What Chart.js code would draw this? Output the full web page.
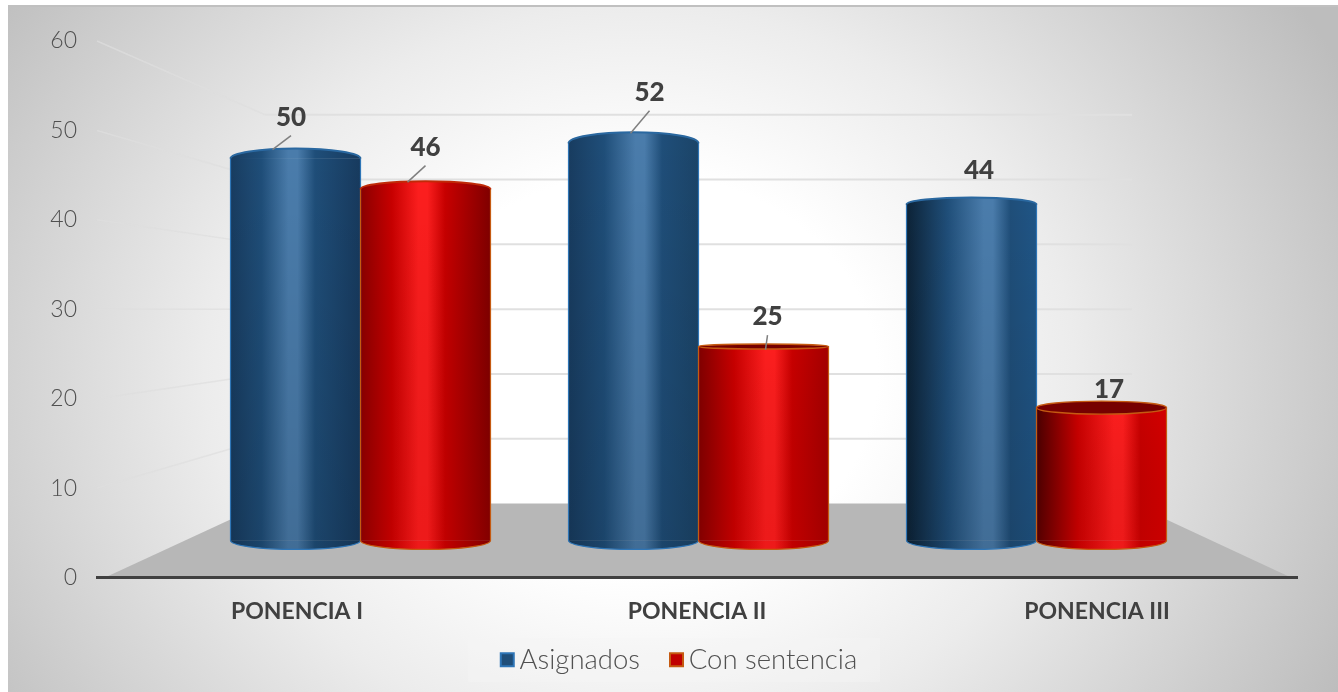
<!DOCTYPE html>
<html>
<head>
<meta charset="utf-8">
<style>html,body{margin:0;padding:0;background:#fff;overflow:hidden}#w{width:1338px;height:692px;position:relative}</style>
<script src="https://cdn.jsdelivr.net/npm/chart.js@4"></script>
</head>
<body>
<div id="w"><canvas id="c" width="1338" height="692"></canvas></div>
<script>
const categories = ['PONENCIA I', 'PONENCIA II', 'PONENCIA III'];
const groupSlots = [1, 2, 3];
const asignados = [50, 52, 44];
const conSentencia = [46, 25, 17];
const yTicks = [0, 10, 20, 30, 40, 50, 60];

// presentation only
const TEXT = '#404040';
const blueSkin = {fill:'#1f4e79', stroke:'#2e75b6', rim:'#2a68a0', hi:'#4a7cab', mid:'#1f4e79', top:'#143f66',
  left:['#183c60','#183c60','#0c2236'], right:['#173a5e','#1b4468','#1f5586']};
const redSkin = {fill:'#c00000', stroke:'#c55a11', rim:'#c02a08', hi:'#fc1e1e', mid:'#c80000', top:'#760000',
  left:['#8a0000','#800000','#4a0000'], right:['#800000','#a40000','#d40000']};
const skins = [blueSkin, redSkin];
const shades = ['rgba(0,0,0,0.12)', 'rgba(150,0,0,0.14)'];
const highlightAt = [0.48, 0.55, 0.63];
const labelOffsetX = [[-4.5, 16, 7.5], [0, 4, 7.5]];
const labelOffsetY = [[41.5, 51, 34], [42, 33, 21]];
const leaderOffsetX = [[-23, -3, null], [-18, 2, null]];

function cylGrad(ctx, s, i, x0, w) {
  const g = ctx.createLinearGradient(x0, 0, x0 + w, 0);
  const h = highlightAt[i];
  g.addColorStop(0, s.left[i]);
  g.addColorStop(h * 0.5, s.mid);
  g.addColorStop(h - 0.035, s.hi);
  g.addColorStop(h + 0.035, s.hi);
  g.addColorStop(Math.min(h + 0.17, 0.9), s.mid);
  g.addColorStop(1, s.right[i]);
  return g;
}
function arcRy(v) { return Math.abs(v - 30) * 0.5; }

const cylinderPlugin = {
  id: 'cylinder',
  afterLayout(chart) {
    const l = chart.legend;
    l.left += 30; l.right += 30;
    l.top -= 22; l.bottom -= 22;
  },
  beforeDraw(chart) {
    const {ctx, scales:{y}, chartArea:a} = chart;
    const W = chart.width, H = chart.height;
    ctx.save();
    ctx.fillStyle = '#fff'; ctx.fillRect(0, 0, W, H);
    ctx.translate(640, 375); ctx.scale(1, 0.85);
    const bg = ctx.createRadialGradient(0, 0, 0, 0, 0, 790);
    bg.addColorStop(0, '#ffffff'); bg.addColorStop(0.3, '#ffffff'); bg.addColorStop(0.55, '#ececec');
    bg.addColorStop(0.8, '#d2d2d2'); bg.addColorStop(1, '#bdbdbd');
    ctx.fillStyle = bg;
    ctx.fillRect(8 - 640, (6 - 375) / 0.85, W - 8, (H - 6) / 0.85);
    ctx.restore();
    ctx.fillStyle = '#c0c0c0'; ctx.fillRect(8, 5, W - 8, 2);

    // floor
    const backX0 = a.left + 168, backX1 = a.right - 165;
    const back = v => a.bottom - 74 + (y.getPixelForValue(v) - a.bottom) * 0.7245;
    ctx.fillStyle = '#b7b7b7';
    ctx.beginPath(); ctx.moveTo(a.left + 8, a.bottom); ctx.lineTo(backX0, back(0));
    ctx.lineTo(backX1, back(0)); ctx.lineTo(a.right - 6, a.bottom); ctx.closePath(); ctx.fill();
    // walls
    yTicks.forEach(v => {
      if (v === 0) return;
      const py = y.getPixelForValue(v), by = back(v);
      ctx.strokeStyle = 'rgba(222,222,222,0.7)'; ctx.lineWidth = 1.5;
      ctx.beginPath(); ctx.moveTo(a.left, py); ctx.lineTo(backX0, by); ctx.stroke();
      ctx.strokeStyle = '#e0e0e0'; ctx.lineWidth = 2;
      ctx.beginPath(); ctx.moveTo(backX0, by); ctx.lineTo(backX1, by); ctx.stroke();
    });
    // legend plate
    ctx.fillStyle = 'rgba(244,244,244,0.4)';
    ctx.fillRect(468, 638, 412, 44);
  },
  afterDraw(chart) {
    // legend swatches, aligned to the native legend entries
    const {ctx, legend} = chart;
    (legend.legendHitBoxes || []).forEach((h, i) => {
      const s = skins[i], cy = h.top + h.height / 2;
      ctx.save();
      ctx.fillStyle = s.fill; ctx.strokeStyle = s.stroke; ctx.lineWidth = 2;
      ctx.fillRect(h.left + 1, cy - 7, 13, 13); ctx.strokeRect(h.left + 1, cy - 7, 13, 13);
      ctx.restore();
    });
  },
  afterDatasetsDraw(chart) {
    const {ctx} = chart;
    const baseRy = 9, lift = 3;
    [0, 1].forEach(ds => {
      const meta = chart.getDatasetMeta(ds), s = skins[ds];
      const vals = ds === 0 ? asignados : conSentencia;
      meta.data.forEach((el, i) => {
        const w = el.width, x0 = el.x - w / 2, cx = el.x, rx = w / 2, v = vals[i];
        const ry = arcRy(v), fromBelow = v > 30;
        const topY = fromBelow ? el.y : el.y - lift;
        ctx.save();
        const g = cylGrad(ctx, s, i, x0, w);
        ctx.fillStyle = g;
        // bottom
        ctx.beginPath(); ctx.moveTo(x0, el.base); ctx.ellipse(cx, el.base, rx, baseRy, 0, Math.PI, 0, true); ctx.closePath(); ctx.fill();
        // top
        if (fromBelow) {
          ctx.beginPath(); ctx.moveTo(x0, el.y + 0.5); ctx.ellipse(cx, el.y, rx, ry, 0, Math.PI, 0, false); ctx.closePath(); ctx.fill();
        } else {
          ctx.fillRect(x0, topY, w, lift + 0.5);
        }
        // vertical shading
        const sh = ctx.createLinearGradient(0, topY - ry, 0, el.base + baseRy);
        sh.addColorStop(0, 'rgba(0,0,0,0)'); sh.addColorStop(1, shades[ds]);
        ctx.fillStyle = sh;
        ctx.beginPath(); ctx.moveTo(x0, topY);
        if (fromBelow) ctx.ellipse(cx, topY, rx, ry, 0, Math.PI, 0, false); else ctx.lineTo(x0 + w, topY);
        ctx.lineTo(x0 + w, el.base); ctx.ellipse(cx, el.base, rx, baseRy, 0, 0, Math.PI, false); ctx.closePath(); ctx.fill();
        // outline
        ctx.strokeStyle = s.stroke; ctx.lineWidth = 1.2;
        ctx.beginPath(); ctx.moveTo(x0, topY); ctx.lineTo(x0, el.base);
        ctx.ellipse(cx, el.base, rx, baseRy, 0, Math.PI, 0, true);
        ctx.lineTo(x0 + w, topY); ctx.stroke();
        if (fromBelow) {
          ctx.strokeStyle = s.rim; ctx.lineWidth = 2;
          ctx.beginPath(); ctx.ellipse(cx, topY, rx, ry, 0, Math.PI, 0, false); ctx.stroke();
        } else {
          ctx.fillStyle = s.top; ctx.strokeStyle = s.stroke; ctx.lineWidth = 1.4;
          ctx.beginPath(); ctx.ellipse(cx, topY, rx, ry, 0, 0, Math.PI * 2); ctx.fill(); ctx.stroke();
        }
        ctx.restore();
      });
    });
    // value labels and leaders
    [0, 1].forEach(ds => {
      const meta = chart.getDatasetMeta(ds);
      const vals = ds === 0 ? asignados : conSentencia;
      meta.data.forEach((el, i) => {
        const lx = el.x + labelOffsetX[ds][i], ly = el.y - labelOffsetY[ds][i];
        const lead = leaderOffsetX[ds][i];
        ctx.save();
        if (lead !== null) {
          ctx.strokeStyle = '#7f7f7f'; ctx.lineWidth = 1.5;
          ctx.beginPath(); ctx.moveTo(lx, ly + 18.5);
          const v = vals[i];
          ctx.lineTo(el.x + lead, el.y - (v > 30 ? arcRy(v) - 1 : 0)); ctx.stroke();
        }
        ctx.fillStyle = TEXT; ctx.font = '900 26px Lato'; ctx.textAlign = 'center'; ctx.textBaseline = 'middle';
        ctx.fillText(String(vals[i]), lx, ly);
        ctx.restore();
      });
    });
  }
};

function seriesData(values) { return values.map((v, i) => ({x: groupSlots[i], y: v})); }
function barFill(ds) {
  return c => {
    const sc = c.chart.scales.xBars;
    if (!sc || c.dataIndex === undefined) return skins[ds].fill;
    const w = 130, px = sc.getPixelForValue(groupSlots[c.dataIndex]);
    return cylGrad(c.chart.ctx, skins[ds], c.dataIndex, ds === 0 ? px - w : px, w);
  };
}

new Chart(document.getElementById('c'), {
  type: 'bar',
  data: {
    labels: categories,
    datasets: [
      {label: 'Asignados', data: seriesData(asignados), xAxisID: 'xBars', yAxisID: 'yBars', backgroundColor: barFill(0), barThickness: 130, borderWidth: 0},
      {label: 'Con sentencia', data: seriesData(conSentencia), xAxisID: 'xBars', yAxisID: 'yBars', backgroundColor: barFill(1), barThickness: 130, borderWidth: 0}
    ]
  },
  options: {
    responsive: false,
    animation: false,
    layout: {padding: {left: 0, right: 41, top: 41, bottom: -14}},
    scales: {
      x: {
        type: 'category', offset: true, position: 'bottom',
        grid: {display: false, drawTicks: false},
        border: {display: true, color: '#404040', width: 3},
        ticks: {color: TEXT, font: {family: 'Lato', size: 23, weight: 'bold'}, padding: 20, maxRotation: 0},
        afterFit(s) { s.height = 62; }
      },
      y: {
        type: 'linear', position: 'left', min: 0, max: 60,
        grid: {display: false, drawTicks: false},
        border: {display: false},
        ticks: {color: '#505050', font: {family: 'Lato', size: 23, weight: '300'}, padding: 20, stepSize: 10},
        afterFit(s) { s.width = 97; }
      },
      xBars: {type: 'linear', axis: 'x', display: false, offset: false, min: 0.2204, max: 3.7707},
      yBars: {type: 'linear', axis: 'y', display: false, min: -4.85, max: 65.4}
    },
    plugins: {
      tooltip: {enabled: false},
      legend: {
        position: 'bottom',
        labels: {
          color: '#505050',
          font: {family: 'Lato', size: 27.5, weight: '300'},
          boxWidth: 6, boxHeight: 15, padding: 29,
          generateLabels: () => [
            {text: 'Asignados', fillStyle: 'rgba(0,0,0,0)', strokeStyle: 'rgba(0,0,0,0)', lineWidth: 0, datasetIndex: 0, fontColor: '#505050'},
            {text: 'Con sentencia', fillStyle: 'rgba(0,0,0,0)', strokeStyle: 'rgba(0,0,0,0)', lineWidth: 0, datasetIndex: 1, fontColor: '#505050'}
          ]
        }
      }
    }
  },
  plugins: [cylinderPlugin]
});
</script>
</body>
</html>
